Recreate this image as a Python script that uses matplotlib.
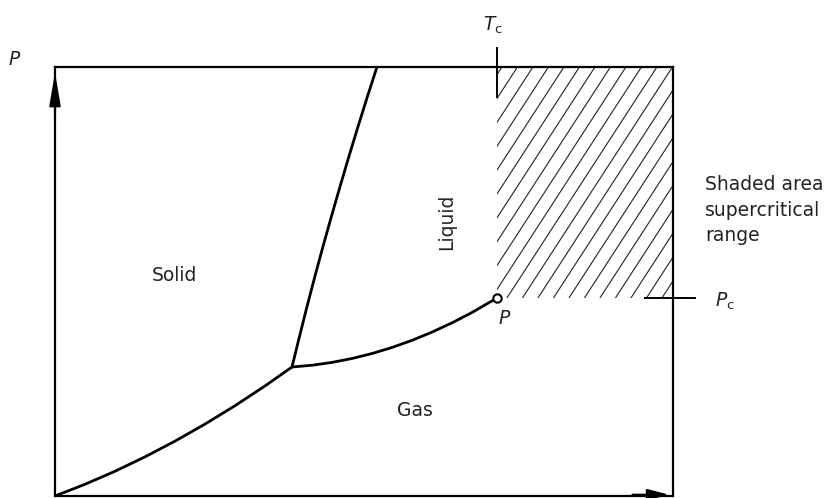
import numpy as np
import matplotlib
matplotlib.use("Agg")
import matplotlib.pyplot as plt
from matplotlib.patches import Rectangle
from matplotlib.collections import LineCollection

# Phase boundaries (T, P in % of diagram box)
sub_T = [0, 4.85, 9.71, 14.56, 19.42, 24.27, 29.13, 33.98, 38.35]
sub_P = [0, 2.73, 5.77, 9.12, 12.79, 16.76, 21.05, 25.65, 30.07]

melt_T = [38.35, 39.54, 40.76, 42.03, 43.34, 44.70, 46.10, 47.53, 49.01, 50.53, 52.10]
melt_P = [30.07, 37.06, 44.06, 51.05, 58.04, 65.03, 72.03, 79.02, 86.01, 93.01, 100]

vap_T = [38.35, 41.59, 44.82, 48.06, 51.29, 54.53, 57.77, 61.00, 64.24, 67.48, 71.52]
vap_P = [30.07, 30.48, 31.14, 32.05, 33.21, 34.62, 36.28, 38.20, 40.36, 42.78, 46.15]

Tc, Pc = 71.52, 46.15

fig = plt.figure(figsize=(8.31, 4.98), dpi=100)
ax = fig.add_axes([55 / 831, 2 / 498, 618 / 831, 429 / 498])
ax.set_xlim(0, 100)
ax.set_ylim(0, 100)
ax.set_xticks([])
ax.set_yticks([])
for s in ax.spines.values():
    s.set_linewidth(1.6)

# curves
for T, P in [(sub_T, sub_P), (melt_T, melt_P), (vap_T, vap_P)]:
    ax.plot(T, P, color="k", lw=2.0, solid_joinstyle="round", solid_capstyle="round")

# supercritical shaded area (hand drawn style hatching)
sx, sy = 6.18, 4.29  # px per unit
slope = np.tan(np.radians(57)) * sx / sy
step = 15.5 / sx
segs = []
for t0 in np.arange(Tc - (100 - Pc) / slope + 0.8, 100, step):
    segs.append([(t0, Pc), (t0 + (100 - Pc) / slope, 100)])
clip = Rectangle((Tc, Pc), 100 - Tc, 100 - Pc, transform=ax.transData, fill=False, lw=0)
ax.add_patch(clip)
lc = LineCollection(segs, colors="#222222", linewidths=0.8)
ax.add_collection(lc)
lc.set_clip_path(clip)

# critical point
ax.plot([Tc], [Pc], "o", ms=6, mfc="white", mec="k", mew=1.5, zorder=5)

# ticks for Tc and Pc
ax.plot([Tc, Tc], [93.0, 104.4], color="k", lw=1.4, clip_on=False)
ax.plot([95.5, 103.6], [Pc, Pc], color="k", lw=1.4, clip_on=False)

# axis arrows
ax.annotate("", xy=(0, 99.4), xytext=(0, 88), annotation_clip=False,
            arrowprops=dict(arrowstyle="-|>,head_length=1.0,head_width=0.17", color="k", lw=1.5, mutation_scale=20))
ax.annotate("", xy=(99.8, 0.3), xytext=(93, 0.3), annotation_clip=False,
            arrowprops=dict(arrowstyle="-|>,head_length=0.65,head_width=0.17", color="k", lw=1.5, mutation_scale=20))

fs = 13.5
tc = "#222222"
ax.text(19.4, 51.5, "Solid", fontsize=fs, color=tc, ha="center", va="center")
ax.text(58.3, 20.0, "Gas", fontsize=fs, color=tc, ha="center", va="center")
ax.text(63.4, 63.9, "Liquid", fontsize=fs, color=tc, ha="center", va="center", rotation=90)
ax.text(72.8, 41.3, "$\\it{P}$", fontsize=fs, color=tc, ha="center", va="center")
ax.text(70.9, 109.8, "$\\it{T}_{\\rm c}$", fontsize=fs, color=tc, ha="center", va="center", clip_on=False)
ax.text(106.8, 45.3, "$\\it{P}_{\\rm c}$", fontsize=fs, color=tc, ha="left", va="center", clip_on=False)
ax.text(-6.5, 101.8, "$\\it{P}$", fontsize=fs, color=tc, ha="center", va="center", clip_on=False)
ax.text(105.2, 66.6, "Shaded area\nsupercritical\nrange", fontsize=fs, color=tc,
        ha="left", va="center", linespacing=1.42, clip_on=False)

fig.savefig("out.png", dpi=100)
